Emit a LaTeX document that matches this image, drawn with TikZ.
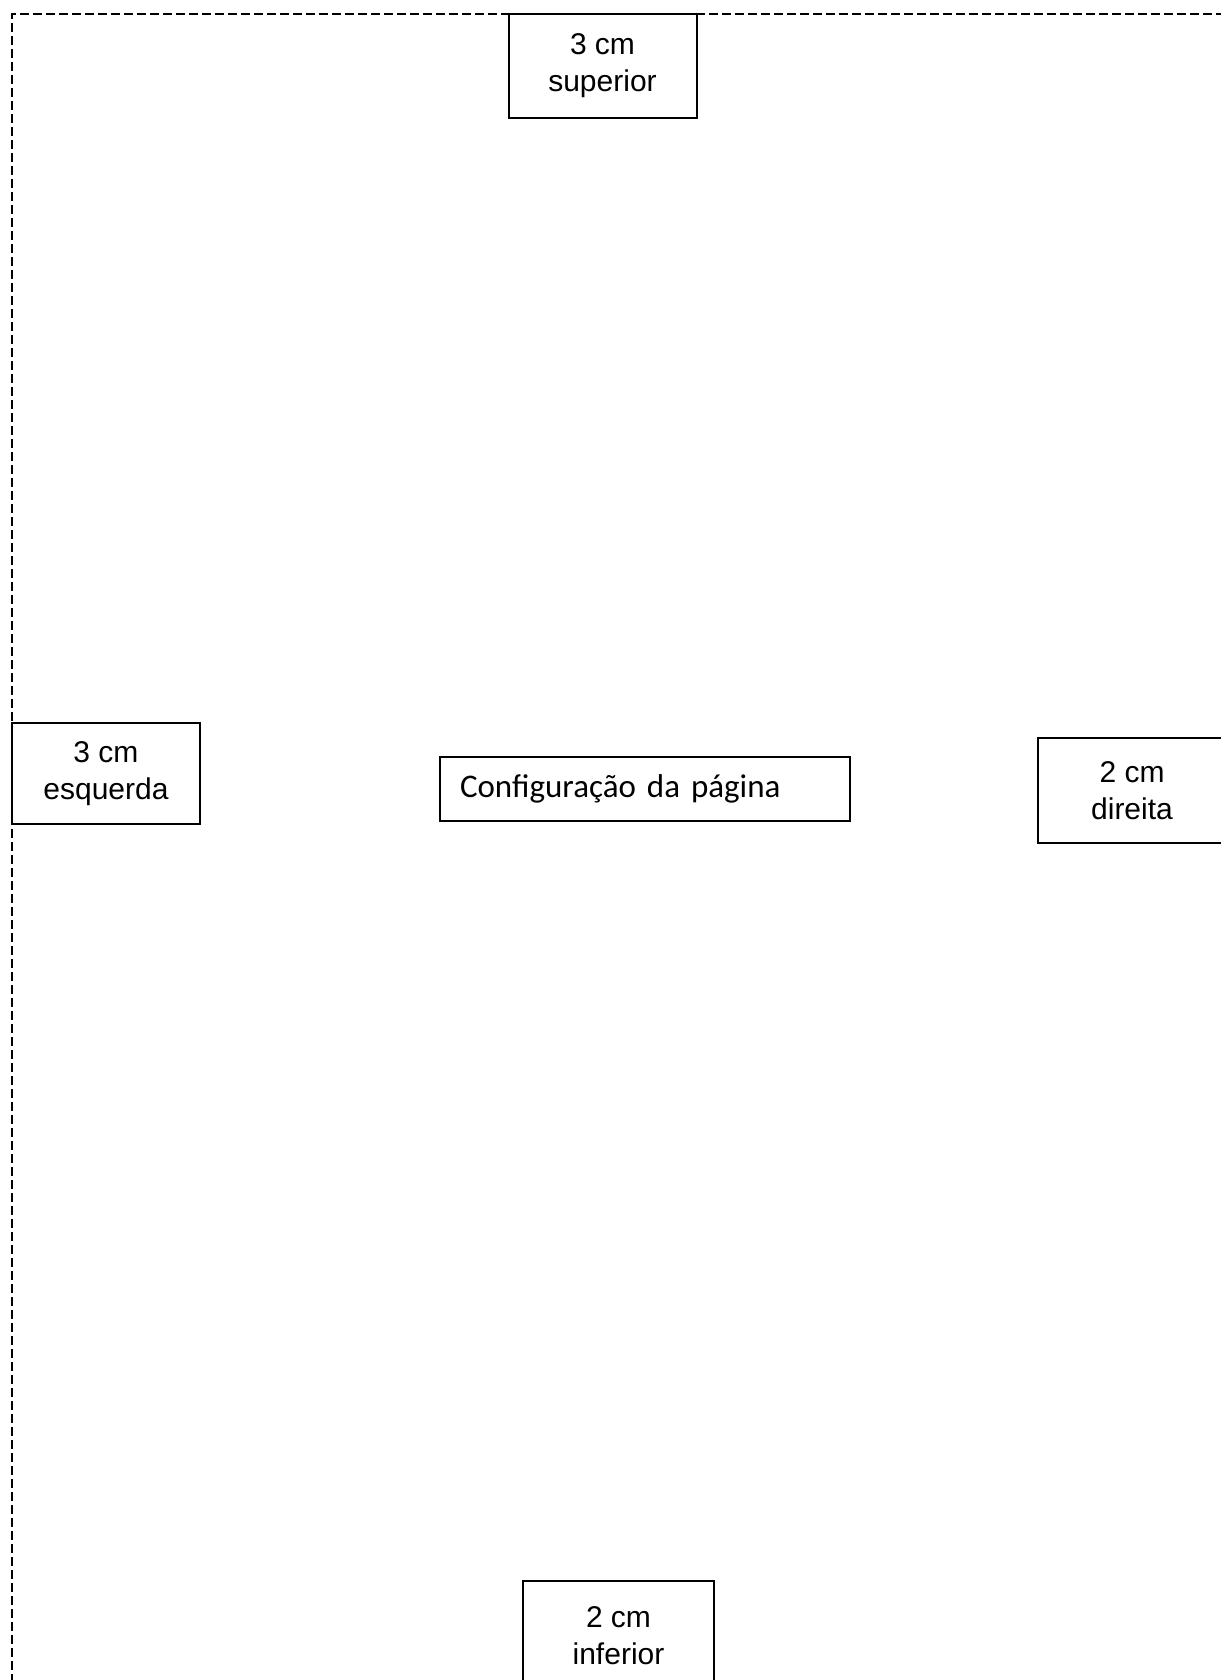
\documentclass[tikz,border=0pt]{standalone}
\usepackage{fontspec}
\setmainfont{Liberation Sans}
\newfontfamily\calfont[WordSpace=0.55]{Carlito}
\begin{document}
\begin{tikzpicture}[x=1pt,y=-1pt,
  margbox/.style={draw=black,line width=2pt,fill=white,align=center,inner sep=0pt,
    minimum width=188pt,font=\fontsize{30}{37}\selectfont},
  titlebox/.style={draw=black,line width=2pt,fill=white,inner sep=0pt,
    minimum width=410pt,minimum height=64pt,font=\calfont\fontsize{33}{37}\selectfont},
  pageedge/.style={line width=2pt,dash pattern=on 9pt off 4pt}]
\useasboundingbox (0,0) rectangle (1220,1680);
\coordinate (tl) at (12,14);
\coordinate (tr) at (1225,14);
\coordinate (bl) at (12,1685);
\draw[pageedge] (tr) -- (tl) -- (bl);
\node[margbox,minimum height=104pt] (sup) at (602.5,66) {3 cm\\superior};
\node[margbox,minimum height=101pt] (esq) at (106,773.5) {3 cm\\esquerda};
\node[margbox,minimum height=105pt] (dir) at (1132,790.5) {2 cm\\direita};
\node[margbox,minimum height=110pt,minimum width=191pt] (inf) at (618.5,1636) {2 cm\\inferior};
\node[titlebox,text width=370pt,align=left] (cfg) at (645,789) {Configuração da página};
\end{tikzpicture}
\end{document}
